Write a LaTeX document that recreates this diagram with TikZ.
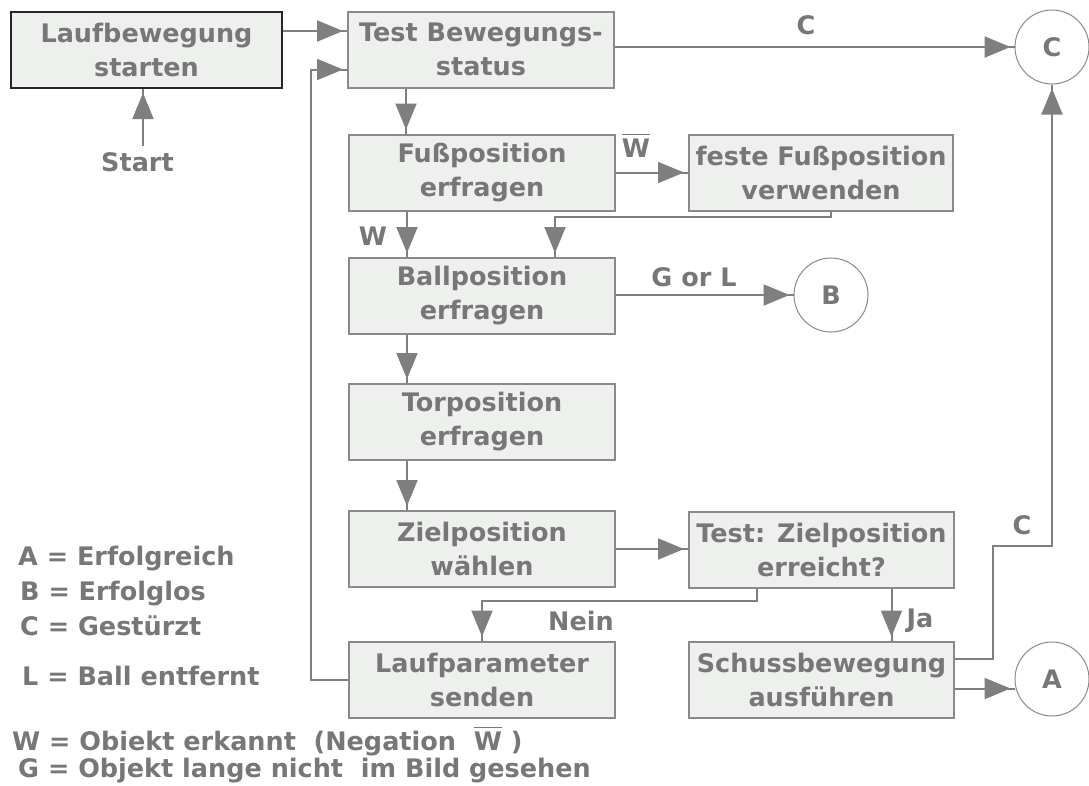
\documentclass[tikz,border=0pt]{standalone}
\usepackage{fontspec}
\setmainfont{DejaVu Sans}
\usetikzlibrary{arrows.meta,decorations.markings}
\definecolor{ink}{HTML}{777777}
\definecolor{edge}{HTML}{7F7F7F}
\definecolor{boxfill}{HTML}{EEF0EE}
\definecolor{boxline}{HTML}{8A8A8A}
% W with a bar over it (negation)
\newcommand\barW{\setbox0\hbox{W}\rlap{\rule[\dimexpr\ht0+3pt\relax]{\wd0}{1.8pt}}\box0}

\begin{document}
\begin{tikzpicture}[x=1pt,y=-1pt,
  every node/.style={font=\bfseries\fontsize{25.5}{34}\selectfont, text=ink},
  stepbox/.style={draw=boxline, line width=2pt, fill=boxfill, minimum width=266pt,
    minimum height=76pt, inner sep=0pt, align=center},
  startbox/.style={stepbox, draw=black!85, minimum width=271pt},
  endpt/.style={circle, draw=boxline, line width=1pt, fill=white, minimum size=74pt, inner sep=0pt},
  conn/.style={draw=edge, line width=2pt, postaction={decorate},
    decoration={markings, mark=at position -4pt with {\arrow{Triangle[length=26pt,width=21pt]}}}},
  lbl/.style={anchor=base, inner sep=0pt},
  legend/.style={anchor=base west, inner sep=0pt}
]
\fill[white] (0,0) rectangle (1089,785);
\useasboundingbox (0,0) rectangle (1089,785);

% process steps
\node[startbox] (lauf) at (146.5,50) {Laufbewegung\\starten};
\node[stepbox] (test) at (481,49.5) {Test Bewegungs-\\status};
\node[stepbox] (fuss) at (482,172.5) {Fußposition\\erfragen};
\node[stepbox, minimum width=264pt] (feste) at (821,172.5) {feste Fußposition\\verwenden};
\node[stepbox] (ball) at (482,296) {Ballposition\\erfragen};
\node[stepbox] (tor) at (482,422) {Torposition\\erfragen};
\node[stepbox] (ziel) at (482,549) {Zielposition\\wählen};
\node[stepbox, minimum width=265pt] (tziel) at (821.5,549.5) {Test: Zielposition\\erreicht?};
\node[stepbox] (laufp) at (482,679.5) {Laufparameter\\senden};
\node[stepbox, minimum width=265pt] (schuss) at (821.5,679.5) {Schussbewegung\\ausführen};

% outcomes
\node[endpt] (cC) at (1052,47) {C};
\node[endpt] (cB) at (831,295) {B};
\node[endpt] (cA) at (1052,679) {A};

% connector labels
\node[lbl] (startlbl) at (137.5,171) {Start};
\node[lbl] (lC1) at (806,34) {C};
\node[lbl] (lWbar) at (636,157) {\barW};
\node[lbl] (lW) at (373,245) {W};
\node[lbl] (lGL) at (694,286) {G or L};
\node[lbl] (lNein) at (581,630) {Nein};
\node[lbl] (lJa) at (920,627) {Ja};
\node[lbl] (lC2) at (1022,534) {C};

% legend
\node[legend] (kA) at (18,565) {A = Erfolgreich};
\node[legend] (kB) at (20,600) {B = Erfolglos};
\node[legend] (kC) at (20,635) {C = Gestürzt};
\node[legend] (kL) at (22,685) {L = Ball entfernt};
\node[legend] (kW) at (12,750) {W = Obiekt erkannt\ \ (Negation\ \ \barW\ )};
\node[legend] (kG) at (18,777) {G = Objekt lange nicht\ \ im Bild gesehen};

% routing points
\coordinate (startpt) at (143,146);
\coordinate (loopx) at (311,0);
\coordinate (cbend) at (993,546);

% connectors
\draw[conn] (startpt) -- (startpt |- lauf.south);
\draw[conn] ([yshift=19pt]lauf.east) -- ([yshift=19pt]lauf.east -| test.west);
\draw[conn] (laufp.west) -- (laufp.west -| loopx) |- ([yshift=-20pt]test.west);
\draw[conn] (test.east |- cC) -- (cC);
\draw[conn] ([xshift=-75pt]test.south) -- ([xshift=-75pt]test.south |- fuss.north);
\draw[conn] (fuss.east) -- (fuss.east -| feste.west);
\draw[conn] ([xshift=-75pt]fuss.south) -- ([xshift=-75pt]fuss.south |- ball.north);
\draw[conn] ([xshift=10pt]feste.south) -- ([xshift=10pt,yshift=-5pt]feste.south) -| ([xshift=73pt]ball.north);
\draw[conn] (ball.east |- cB) -- (cB);
\draw[conn] ([xshift=-75pt]ball.south) -- ([xshift=-75pt]ball.south |- tor.north);
\draw[conn] ([xshift=-75pt]tor.south) -- ([xshift=-75pt]tor.south |- ziel.north);
\draw[conn] (ziel.east) -- (ziel.east -| tziel.west);
\draw[conn] ([xshift=-65pt]tziel.south) -- ([xshift=-65pt,yshift=-12pt]tziel.south) -| (laufp.north);
\draw[conn] ([xshift=70pt]tziel.south) -- ([xshift=70pt]tziel.south |- schuss.north);
\draw[conn] ([yshift=21pt]schuss.east) -| (cbend) -| (cC.south);
\draw[conn] ([yshift=-9pt]schuss.east) -- ([yshift=-9pt]schuss.east -| cA.west);
\end{tikzpicture}
\end{document}
